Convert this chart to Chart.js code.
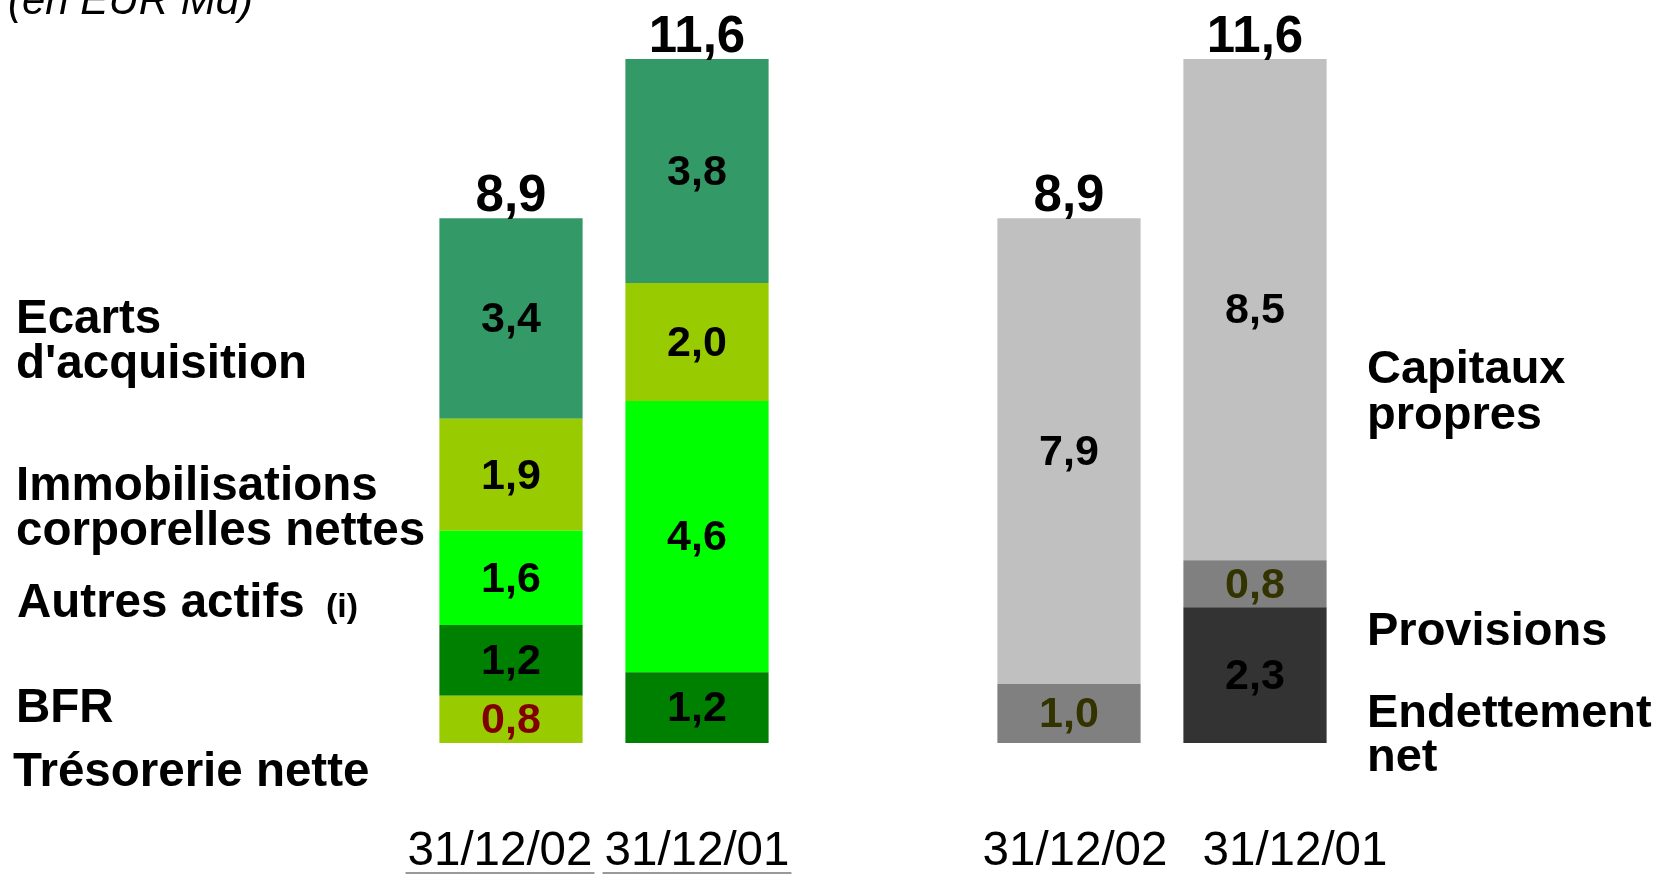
<!DOCTYPE html>
<html>
<head>
<meta charset="utf-8">
<script src="https://cdn.jsdelivr.net/npm/chart.js@4.4.1/dist/chart.umd.min.js"></script>
<style>
  html, body { margin: 0; padding: 0; background: #fff; }
  #wrap { position: relative; width: 1662px; height: 874px; }
</style>
</head>
<body>
<div id="wrap"><canvas id="bilan"></canvas></div>
<script>
'use strict';

/* ── données (EUR Md) ── */
var categories   = ['31/12/02', '31/12/01', '', '31/12/02', '31/12/01'];
var tresorerie   = [0.8, null, null, null, null];
var bfr          = [1.2, 1.2, null, null, null];
var autresActifs = [1.6, 4.6, null, null, null];
var immobilis    = [1.9, 2.0, null, null, null];
var ecarts       = [3.4, 3.8, null, null, null];
var endettement  = [null, null, null, null, 2.3];
var provisions   = [null, null, null, 1.0, 0.8];
var capitaux     = [null, null, null, 7.9, 8.5];

/* décalage horizontal des dates sous les barres (px) */
var dateShift     = [-11, 0, 0, 6, 40];
var dateUnderline = [true, true, false, false, false];

var FONT = '"Liberation Sans", Arial, Helvetica, sans-serif';

function serie(label, data, bg, txt){
  return {
    label: label, data: data, backgroundColor: bg, borderWidth: 0,
    stack: 'bilan', valueColor: txt || '#000'
  };
}

/* ── textes : valeurs, totaux, libellés ── */
var textesPlugin = {
  id: 'textes',
  afterDatasetsDraw: function(chart){
    var ctx = chart.ctx;
    var x = chart.scales.x, y = chart.scales.y;
    ctx.save();

    /* valeurs dans les segments */
    ctx.textAlign = 'center';
    ctx.textBaseline = 'middle';
    ctx.font = 'bold 43px ' + FONT;
    chart.data.datasets.forEach(function(ds, i){
      var meta = chart.getDatasetMeta(i);
      meta.data.forEach(function(bar, j){
        var v = ds.data[j];
        if(v === null || v === undefined) return;
        ctx.fillStyle = ds.valueColor;
        ctx.fillText(v.toFixed(1).replace('.', ','), bar.x, (bar.y + bar.base) / 2 + 2);
      });
    });

    /* totaux au-dessus des barres */
    ctx.font = 'bold 51px ' + FONT;
    ctx.textBaseline = 'alphabetic';
    ctx.fillStyle = '#000';
    categories.forEach(function(c, j){
      var tot = 0, any = false;
      chart.data.datasets.forEach(function(ds){
        if(ds.data[j] !== null){ tot += ds.data[j]; any = true; }
      });
      if(!any) return;
      ctx.fillText(tot.toFixed(1).replace('.', ','), x.getPixelForValue(j), y.getPixelForValue(tot) - 7);
    });

    /* dates */
    ctx.font = '47.5px ' + FONT;
    categories.forEach(function(c, j){
      if(!c) return;
      var cx = x.getPixelForValue(j) + dateShift[j];
      ctx.fillStyle = '#000';
      ctx.fillText(c, cx, 865);
      if(dateUnderline[j]){
        var w = ctx.measureText(c).width;
        ctx.fillStyle = '#999';
        ctx.fillRect(cx - w / 2 - 2, 872, w + 4, 2);
      }
    });

    /* sous-titre */
    ctx.textAlign = 'left';
    ctx.font = 'italic 42px ' + FONT;
    ctx.fillStyle = '#000';
    ctx.fillText('(en EUR Md)', 8, 14);

    /* libellés gauche */
    ctx.font = 'bold 47.5px ' + FONT;
    [['Ecarts', 333], ["d'acquisition", 378], ['Immobilisations', 500],
     ['corporelles nettes', 545], ['BFR', 722], ['Trésorerie nette', 786]]
    .forEach(function(l){ ctx.fillText(l[0], l[0] === 'Trésorerie nette' ? 13 : 16, l[1]); });
    ctx.fillText('Autres actifs', 17, 617);
    var wa = ctx.measureText('Autres actifs ').width;
    ctx.font = 'bold 34px ' + FONT;
    ctx.fillText('(i)', 17 + wa + 8, 617);

    /* libellés droite */
    ctx.font = 'bold 47px ' + FONT;
    [['Capitaux', 383], ['propres', 429], ['Provisions', 645],
     ['Endettement', 727], ['net', 771]]
    .forEach(function(l){ ctx.fillText(l[0], 1367, l[1]); });

    ctx.restore();
  }
};

new Chart(document.getElementById('bilan'), {
  type: 'bar',
  data: {
    labels: categories,
    datasets: [
      serie('Trésorerie nette', tresorerie, '#99CC00', '#800000'),
      serie('BFR', bfr, '#008000'),
      serie('Autres actifs', autresActifs, '#00FF00'),
      serie('Immobilisations corporelles nettes', immobilis, '#99CC00'),
      serie("Ecarts d'acquisition", ecarts, '#339966'),
      serie('Endettement net', endettement, '#333333'),
      serie('Provisions', provisions, '#808080', '#333300'),
      serie('Capitaux propres', capitaux, '#C0C0C0')
    ]
  },
  options: {
    responsive: true,
    maintainAspectRatio: false,
    animation: false,
    devicePixelRatio: 1,
    layout: { padding: { left: 418, right: 314, top: 0, bottom: 131 } },
    datasets: { bar: { barPercentage: 0.77, categoryPercentage: 1 } },
    plugins: { legend: { display: false }, tooltip: { enabled: false } },
    scales: {
      x: { display: false, stacked: true },
      y: { display: false, stacked: true, min: 0, max: 12.6 }
    }
  },
  plugins: [textesPlugin]
});
</script>
</body>
</html>
